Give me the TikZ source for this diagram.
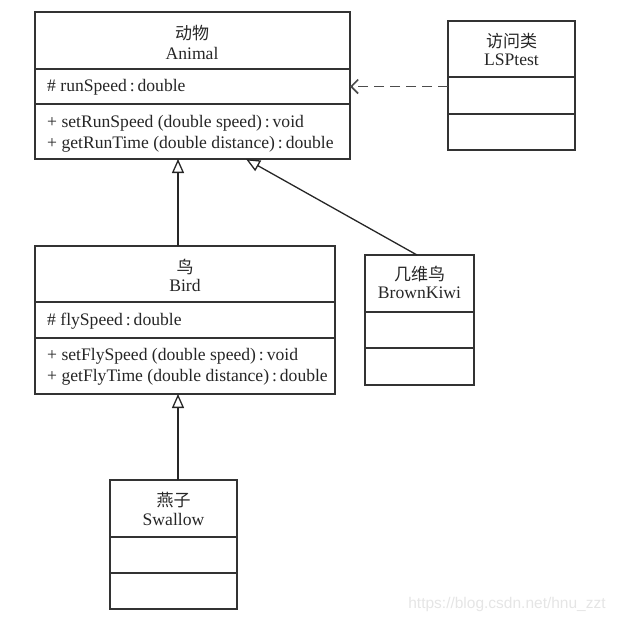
\documentclass[tikz,border=0pt]{standalone}
\usepackage{fontspec}
\setmainfont{Liberation Serif}
\newfontfamily\cjk{Noto Sans CJK SC}
\newfontfamily\wmfont{Liberation Sans}
\usetikzlibrary{arrows.meta}
\begin{document}
\begin{tikzpicture}[x=1pt,y=-1pt,
  comp/.style={draw=black!80, line width=1.3pt, anchor=north west, inner sep=0pt, outer sep=0pt},
  lbl/.style={font=\fontsize{17.6}{20}\selectfont, text=black!85, inner sep=0pt},
  cn/.style={font=\cjk\fontsize{17}{20}\selectfont, text=black!85, inner sep=0pt},
  gen/.style={draw=black!85, line width=1.3pt, -{Triangle[open, length=14pt, width=12pt]}},
  dep/.style={draw=black!70, line width=1.6pt, dash pattern=on 10pt off 6pt, -{Straight Barb[length=7pt, width=14pt]}}]
\useasboundingbox (0,0) rectangle (617,622);

% Animal
\node[comp, minimum width=315pt, minimum height=57pt] (animalN) at (35,12) {};
\node[comp, minimum width=315pt, minimum height=35pt] (animalA) at (35,69) {};
\node[comp, minimum width=315pt, minimum height=55pt] (animalO) at (35,104) {};
\node[cn] (animalC) at (192,33) {动物};
\node[lbl, anchor=base] (animalE) at (192,59) {Animal};
\node[lbl, anchor=base west] (animalA1) at (47,91) {\# runSpeed\,:\,double};
\node[lbl, anchor=base west] (animalO1) at (47,127) {+ setRunSpeed (double speed)\,:\,void};
\node[lbl, anchor=base west] (animalO2) at (47,148) {+ getRunTime (double distance)\,:\,double};

% LSPtest
\node[comp, minimum width=127pt, minimum height=56pt] (lspN) at (448,21) {};
\node[comp, minimum width=127pt, minimum height=37pt] (lspA) at (448,77) {};
\node[comp, minimum width=127pt, minimum height=36pt] (lspO) at (448,114) {};
\node[cn] (lspC) at (511.5,41) {访问类};
\node[lbl, anchor=base] (lspE) at (511.5,65) {LSPtest};

% Bird
\node[comp, minimum width=300pt, minimum height=56pt] (birdN) at (35,246) {};
\node[comp, minimum width=300pt, minimum height=36pt] (birdA) at (35,302) {};
\node[comp, minimum width=300pt, minimum height=56pt] (birdO) at (35,338) {};
\node[cn] (birdC) at (185,267) {鸟};
\node[lbl, anchor=base] (birdE) at (185,291) {Bird};
\node[lbl, anchor=base west] (birdA1) at (47,325) {\# flySpeed\,:\,double};
\node[lbl, anchor=base west] (birdO1) at (47,360) {+ setFlySpeed (double speed)\,:\,void};
\node[lbl, anchor=base west] (birdO2) at (47,381) {+ getFlyTime (double distance)\,:\,double};

% BrownKiwi
\node[comp, minimum width=109pt, minimum height=57pt] (kiwiN) at (365,255) {};
\node[comp, minimum width=109pt, minimum height=36pt] (kiwiA) at (365,312) {};
\node[comp, minimum width=109pt, minimum height=37pt] (kiwiO) at (365,348) {};
\node[cn] (kiwiC) at (419.5,274) {几维鸟};
\node[lbl, anchor=base] (kiwiE) at (419.5,298) {BrownKiwi};

% Swallow
\node[comp, minimum width=127pt, minimum height=57pt] (swN) at (110,480) {};
\node[comp, minimum width=127pt, minimum height=36pt] (swA) at (110,537) {};
\node[comp, minimum width=127pt, minimum height=36pt] (swO) at (110,573) {};
\node[cn] (swC) at (173.5,500) {燕子};
\node[lbl, anchor=base] (swE) at (173.5,525) {Swallow};

% connectors
\draw[gen] ([xshift=143pt]birdN.north west) -- ([xshift=143pt]birdN.north west |- animalO.south);
\draw[gen] ([xshift=68pt]swN.north west) -- ([xshift=68pt]swN.north west |- birdO.south);
\draw[gen] ([xshift=52pt]kiwiN.north west) -- ([xshift=211pt]animalO.south west);
\draw[dep] (lspA.west |- animalA.east) -- (animalA.east);

% watermark
\node[font=\wmfont\fontsize{15.5}{18}\selectfont, text=black!10, inner sep=0pt] (wm) at (507,604) {https://blog.csdn.net/hnu\_zzt};
\end{tikzpicture}
\end{document}
